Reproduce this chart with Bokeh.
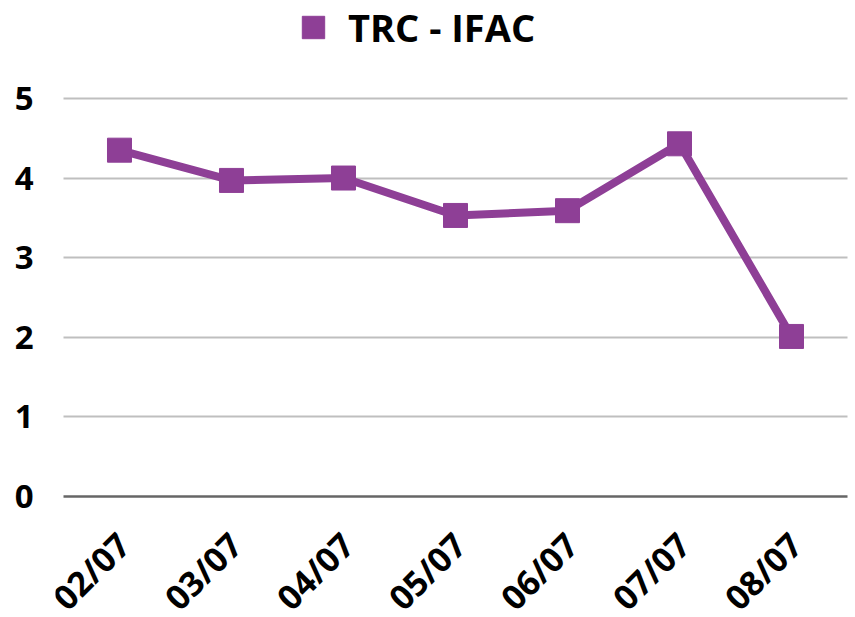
from math import pi
from bokeh.plotting import figure
from bokeh.models import (FactorRange, Range1d, FixedTicker, Legend, LegendItem,
                          ColumnDataSource, LabelSet, Grid)
from bokeh.core.properties import value
from bokeh.embed import file_html
from bokeh.resources import INLINE

dates = ["02/07", "03/07", "04/07", "05/07", "06/07", "07/07", "08/07"]
values = [4.35, 3.97, 4.0, 3.53, 3.59, 4.43, 2.01]
series_name = "TRC - IFAC"
y_ticks = [0, 1, 2, 3, 4, 5]

COLOR = "#8E3F96"
FONT = "Open Sans"

src = ColumnDataSource(dict(x=dates, y=values, base=[0] * len(dates)))

xr = FactorRange(*dates, range_padding=0.0714, range_padding_units="absolute")
p = figure(x_range=xr, y_range=Range1d(-1.52, 6.23),
           width=855, height=617, output_backend="svg", toolbar_location=None,
           min_border_left=55, min_border_right=0, min_border_top=0, min_border_bottom=0)
p.outline_line_color = None
p.background_fill_color = "white"
p.border_fill_color = "white"

p.xgrid.grid_line_color = None
p.ygrid.grid_line_color = "#BFBFBF"
p.ygrid.grid_line_width = 2
p.ygrid.ticker = FixedTicker(ticks=y_ticks[1:])
p.ygrid.cross_bounds = (0, len(dates))

# baseline (category axis line) at y = 0
base_grid = Grid(dimension=1, ticker=FixedTicker(ticks=[0]), grid_line_color="#666666",
                 grid_line_width=2.5, cross_bounds=(0, len(dates)))
p.add_layout(base_grid)

line = p.line("x", "y", source=src, line_color=COLOR, line_width=8)
pts = p.scatter("x", "y", source=src, marker="square", size=24, fill_color=COLOR, line_color=COLOR)

p.yaxis.ticker = FixedTicker(ticks=y_ticks)
p.yaxis.axis_line_color = None
p.yaxis.major_tick_line_color = None
p.yaxis.minor_tick_line_color = None
p.yaxis.major_tick_out = 0
p.yaxis.major_label_standoff = 22
p.yaxis.major_label_text_font = FONT
p.yaxis.major_label_text_font_style = "bold"
p.yaxis.major_label_text_font_size = "33px"
p.yaxis.major_label_text_color = "black"

p.xaxis.visible = False

# category labels, rotated 45 degrees below the baseline
p.add_layout(LabelSet(x="x", y="base", text="x", source=src, angle=pi / 4,
                      x_offset=4, y_offset=-42, text_align="right", text_baseline="middle",
                      text_font=value(FONT), text_font_style="bold",
                      text_font_size="34px", text_color="black"))

legend = Legend(items=[LegendItem(label=series_name, renderers=[pts])],
                location=(230, 562), orientation="horizontal",
                glyph_width=56, glyph_height=56, label_standoff=7,
                padding=0, margin=0, border_line_color=None, background_fill_alpha=0,
                label_text_font=FONT, label_text_font_style="bold",
                label_text_font_size="38px", label_text_color="black")
p.add_layout(legend)

open("out.html", "w").write(file_html(p, INLINE))
